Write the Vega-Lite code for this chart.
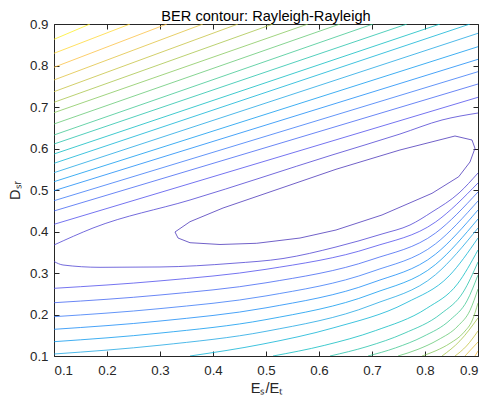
{
 "$schema": "https://vega.github.io/schema/vega-lite/v6.json",
 "width": 424, "height": 332,
 "autosize": "none",
 "padding": {"left": 54, "top": 24, "right": 10, "bottom": 46},
 "background": "white",
 "title": {"text": "BER contour: Rayleigh-Rayleigh", "fontSize": 14.6, "font": "Liberation Sans", "fontWeight": "normal", "color": "#000000", "offset": 0, "dy": 7, "anchor": "middle"},
 "data": {"values": [
  {"c":"L1","k":1,"i":0,"x":0.3283,"y":0.3988},{"c":"L1","k":1,"i":1,"x":0.334,"y":0.3843},{"c":"L1","k":1,"i":2,"x":0.3566,"y":0.373},{"c":"L1","k":1,"i":3,"x":0.4132,"y":0.3687},{"c":"L1","k":1,"i":4,"x":0.4825,"y":0.3716},{"c":"L1","k":1,"i":5,"x":0.5642,"y":0.3843},{"c":"L1","k":1,"i":6,"x":0.6321,"y":0.4036},{"c":"L1","k":1,"i":7,"x":0.7189,"y":0.4398},{"c":"L1","k":1,"i":8,"x":0.8132,"y":0.492},{"c":"L1","k":1,"i":9,"x":0.8636,"y":0.532},{"c":"L1","k":1,"i":10,"x":0.8849,"y":0.5675},{"c":"L1","k":1,"i":11,"x":0.8943,"y":0.6005},{"c":"L1","k":1,"i":12,"x":0.8887,"y":0.6205},{"c":"L1","k":1,"i":13,"x":0.8566,"y":0.6301},{"c":"L1","k":1,"i":14,"x":0.7528,"y":0.5964},{"c":"L1","k":1,"i":15,"x":0.6321,"y":0.5499},{"c":"L1","k":1,"i":16,"x":0.5264,"y":0.5036},{"c":"L1","k":1,"i":17,"x":0.4189,"y":0.4566},{"c":"L1","k":1,"i":18,"x":0.3566,"y":0.4236},{"c":"L1","k":1,"i":19,"x":0.3283,"y":0.3988},
  {"c":"L2U","k":2,"i":0,"x":0.1,"y":0.3675},{"c":"L2U","k":2,"i":1,"x":0.1736,"y":0.4084},{"c":"L2U","k":2,"i":2,"x":0.3566,"y":0.4759},{"c":"L2U","k":2,"i":3,"x":0.6245,"y":0.5843},{"c":"L2U","k":2,"i":4,"x":0.7528,"y":0.6349},{"c":"L2U","k":2,"i":5,"x":0.8321,"y":0.6687},{"c":"L2U","k":2,"i":6,"x":0.9,"y":0.6855},
  {"c":"L2L","k":2,"i":0,"x":0.1,"y":0.3277},{"c":"L2L","k":2,"i":1,"x":0.117,"y":0.3193},{"c":"L2L","k":2,"i":2,"x":0.1868,"y":0.3137},{"c":"L2L","k":2,"i":3,"x":0.3,"y":0.3145},{"c":"L2L","k":2,"i":4,"x":0.4377,"y":0.3234},{"c":"L2L","k":2,"i":5,"x":0.5321,"y":0.3349},{"c":"L2L","k":2,"i":6,"x":0.6321,"y":0.3627},{"c":"L2L","k":2,"i":7,"x":0.7189,"y":0.394},{"c":"L2L","k":2,"i":8,"x":0.7717,"y":0.4157},{"c":"L2L","k":2,"i":9,"x":0.8132,"y":0.447},{"c":"L2L","k":2,"i":10,"x":0.8642,"y":0.4928},{"c":"L2L","k":2,"i":11,"x":0.9,"y":0.541},
  {"c":"U3","k":3,"i":0,"x":0.1,"y":0.4173},{"c":"U3","k":3,"i":1,"x":0.9,"y":0.7234},
  {"c":"U4","k":4,"i":0,"x":0.1,"y":0.4494},{"c":"U4","k":4,"i":1,"x":0.9,"y":0.7554},
  {"c":"U5","k":5,"i":0,"x":0.1,"y":0.4742},{"c":"U5","k":5,"i":1,"x":0.9,"y":0.7851},
  {"c":"U6","k":6,"i":0,"x":0.1,"y":0.4983},{"c":"U6","k":6,"i":1,"x":0.9,"y":0.8149},
  {"c":"U7","k":7,"i":0,"x":0.1,"y":0.52},{"c":"U7","k":7,"i":1,"x":0.9,"y":0.8453},
  {"c":"U8","k":8,"i":0,"x":0.1,"y":0.5417},{"c":"U8","k":8,"i":1,"x":0.9,"y":0.8776},
  {"c":"U9","k":9,"i":0,"x":0.1,"y":0.5643},{"c":"U9","k":9,"i":1,"x":0.8849,"y":0.9},
  {"c":"U10","k":10,"i":0,"x":0.1,"y":0.5867},{"c":"U10","k":10,"i":1,"x":0.8283,"y":0.9},
  {"c":"U11","k":11,"i":0,"x":0.1,"y":0.6108},{"c":"U11","k":11,"i":1,"x":0.766,"y":0.9},
  {"c":"U12","k":12,"i":0,"x":0.1,"y":0.6325},{"c":"U12","k":12,"i":1,"x":0.7019,"y":0.9},
  {"c":"U13","k":13,"i":0,"x":0.1,"y":0.659},{"c":"U13","k":13,"i":1,"x":0.6396,"y":0.9},
  {"c":"U14","k":14,"i":0,"x":0.1,"y":0.6863},{"c":"U14","k":14,"i":1,"x":0.5792,"y":0.9},
  {"c":"U15","k":15,"i":0,"x":0.1,"y":0.7113},{"c":"U15","k":15,"i":1,"x":0.5132,"y":0.9},
  {"c":"U16","k":16,"i":0,"x":0.1,"y":0.7369},{"c":"U16","k":16,"i":1,"x":0.4472,"y":0.9},
  {"c":"U17","k":17,"i":0,"x":0.1,"y":0.7651},{"c":"U17","k":17,"i":1,"x":0.3811,"y":0.9},
  {"c":"U18","k":18,"i":0,"x":0.1,"y":0.7957},{"c":"U18","k":18,"i":1,"x":0.3132,"y":0.9},
  {"c":"U19","k":19,"i":0,"x":0.1,"y":0.8294},{"c":"U19","k":19,"i":1,"x":0.2434,"y":0.9},
  {"c":"U20","k":20,"i":0,"x":0.1,"y":0.8631},{"c":"U20","k":20,"i":1,"x":0.1679,"y":0.9},
  {"c":"D3","k":3,"i":0,"x":0.1,"y":0.2631},{"c":"D3","k":3,"i":1,"x":0.3,"y":0.281},{"c":"D3","k":3,"i":2,"x":0.5,"y":0.3089},{"c":"D3","k":3,"i":3,"x":0.7,"y":0.3622},{"c":"D3","k":3,"i":4,"x":0.82,"y":0.4229},{"c":"D3","k":3,"i":5,"x":0.9,"y":0.5169},
  {"c":"D4","k":4,"i":0,"x":0.1,"y":0.2284},{"c":"D4","k":4,"i":1,"x":0.3,"y":0.247},{"c":"D4","k":4,"i":2,"x":0.5,"y":0.2764},{"c":"D4","k":4,"i":3,"x":0.7,"y":0.3325},{"c":"D4","k":4,"i":4,"x":0.82,"y":0.3964},{"c":"D4","k":4,"i":5,"x":0.9,"y":0.4952},
  {"c":"D5","k":5,"i":0,"x":0.1,"y":0.1947},{"c":"D5","k":5,"i":1,"x":0.3,"y":0.2142},{"c":"D5","k":5,"i":2,"x":0.5,"y":0.2448},{"c":"D5","k":5,"i":3,"x":0.7,"y":0.3034},{"c":"D5","k":5,"i":4,"x":0.82,"y":0.3704},{"c":"D5","k":5,"i":5,"x":0.9,"y":0.4735},
  {"c":"D6","k":6,"i":0,"x":0.1,"y":0.1643},{"c":"D6","k":6,"i":1,"x":0.3,"y":0.1843},{"c":"D6","k":6,"i":2,"x":0.5,"y":0.2161},{"c":"D6","k":6,"i":3,"x":0.7,"y":0.2764},{"c":"D6","k":6,"i":4,"x":0.82,"y":0.3455},{"c":"D6","k":6,"i":5,"x":0.9,"y":0.4518},
  {"c":"D7","k":7,"i":0,"x":0.1,"y":0.1345},{"c":"D7","k":7,"i":1,"x":0.3,"y":0.1552},{"c":"D7","k":7,"i":2,"x":0.5,"y":0.1877},{"c":"D7","k":7,"i":3,"x":0.7,"y":0.2499},{"c":"D7","k":7,"i":4,"x":0.82,"y":0.3207},{"c":"D7","k":7,"i":5,"x":0.9,"y":0.4301},
  {"c":"D8","k":8,"i":0,"x":0.1,"y":0.1048},{"c":"D8","k":8,"i":1,"x":0.3,"y":0.126},{"c":"D8","k":8,"i":2,"x":0.5,"y":0.1595},{"c":"D8","k":8,"i":3,"x":0.7,"y":0.2231},{"c":"D8","k":8,"i":4,"x":0.82,"y":0.2961},{"c":"D8","k":8,"i":5,"x":0.9,"y":0.4084},
  {"c":"D9","k":9,"i":0,"x":0.3566,"y":0.1},{"c":"D9","k":9,"i":1,"x":0.4925,"y":0.1284},{"c":"D9","k":9,"i":2,"x":0.6283,"y":0.1682},{"c":"D9","k":9,"i":3,"x":0.7642,"y":0.228},{"c":"D9","k":9,"i":4,"x":0.8457,"y":0.2933},{"c":"D9","k":9,"i":5,"x":0.9,"y":0.3843},
  {"c":"D10","k":10,"i":0,"x":0.5132,"y":0.1},{"c":"D10","k":10,"i":1,"x":0.6099,"y":0.1255},{"c":"D10","k":10,"i":2,"x":0.7066,"y":0.1612},{"c":"D10","k":10,"i":3,"x":0.8033,"y":0.2149},{"c":"D10","k":10,"i":4,"x":0.8613,"y":0.2737},{"c":"D10","k":10,"i":5,"x":0.9,"y":0.3554},
  {"c":"D11","k":11,"i":0,"x":0.6208,"y":0.1},{"c":"D11","k":11,"i":1,"x":0.6906,"y":0.1227},{"c":"D11","k":11,"i":2,"x":0.7604,"y":0.1545},{"c":"D11","k":11,"i":3,"x":0.8302,"y":0.2019},{"c":"D11","k":11,"i":4,"x":0.8721,"y":0.254},{"c":"D11","k":11,"i":5,"x":0.9,"y":0.3265},
  {"c":"D12","k":12,"i":0,"x":0.6925,"y":0.1},{"c":"D12","k":12,"i":1,"x":0.7443,"y":0.1195},{"c":"D12","k":12,"i":2,"x":0.7962,"y":0.1467},{"c":"D12","k":12,"i":3,"x":0.8481,"y":0.1877},{"c":"D12","k":12,"i":4,"x":0.8792,"y":0.2328},{"c":"D12","k":12,"i":5,"x":0.9,"y":0.2952},
  {"c":"D13","k":13,"i":0,"x":0.7491,"y":0.1},{"c":"D13","k":13,"i":1,"x":0.7868,"y":0.1161},{"c":"D13","k":13,"i":2,"x":0.8245,"y":0.1388},{"c":"D13","k":13,"i":3,"x":0.8623,"y":0.1725},{"c":"D13","k":13,"i":4,"x":0.8849,"y":0.2099},{"c":"D13","k":13,"i":5,"x":0.9,"y":0.2614},
  {"c":"D14","k":14,"i":0,"x":0.7943,"y":0.1},{"c":"D14","k":14,"i":1,"x":0.8208,"y":0.1128},{"c":"D14","k":14,"i":2,"x":0.8472,"y":0.1306},{"c":"D14","k":14,"i":3,"x":0.8736,"y":0.1573},{"c":"D14","k":14,"i":4,"x":0.8894,"y":0.1867},{"c":"D14","k":14,"i":5,"x":0.9,"y":0.2277},
  {"c":"D15","k":15,"i":0,"x":0.8321,"y":0.1},{"c":"D15","k":15,"i":1,"x":0.866,"y":0.1366},{"c":"D15","k":15,"i":2,"x":0.9,"y":0.1916},
  {"c":"D16","k":16,"i":0,"x":0.8566,"y":0.1},{"c":"D16","k":16,"i":1,"x":0.8783,"y":0.1241},{"c":"D16","k":16,"i":2,"x":0.9,"y":0.1602},
  {"c":"D17","k":17,"i":0,"x":0.8755,"y":0.1},{"c":"D17","k":17,"i":1,"x":0.9,"y":0.1337},
  {"c":"D18","k":18,"i":0,"x":0.8943,"y":0.1},{"c":"D18","k":18,"i":1,"x":0.9,"y":0.112}
 ]},
 "layer": [
  {
   "transform": [{"filter": "datum.c !== 'L1'"}],
   "mark": {"type": "line", "interpolate": "monotone", "strokeWidth": 0.75, "clip": true},
   "encoding": {
    "x": {"field": "x", "type": "quantitative", "scale": {"domain": [0.1, 0.9], "nice": false, "zero": false},
          "axis": {"orient": "bottom", "values": [0.1,0.2,0.3,0.4,0.5,0.6,0.7,0.8,0.9], "format": ".1f", "title": "Eₛ/Eₜ", "labelPadding": 12, "titlePadding": 4}},
    "y": {"field": "y", "type": "quantitative", "scale": {"domain": [0.1, 0.9], "nice": false, "zero": false},
          "axis": {"orient": "left", "values": [0.1,0.2,0.3,0.4,0.5,0.6,0.7,0.8,0.9], "format": ".1f", "title": "Dₛᵣ", "labelPadding": 11, "titlePadding": 7}},
    "color": {"field": "k", "type": "quantitative", "legend": null,
              "scale": {"domain": [0.5, 3, 5.5, 8, 10.5, 13, 15.5, 18, 20.5], "range": ["#3e26a8", "#4746eb", "#2f7af7", "#13a2e2", "#1bbcb0", "#5dc66e", "#b5bf3b", "#fbbd3b", "#f9fb0e"]}},
    "detail": {"field": "c"},
    "order": {"field": "i", "type": "quantitative"}
   }
  },
  {
   "transform": [{"filter": "datum.c === 'L1'"}],
   "mark": {"type": "line", "interpolate": "linear", "strokeWidth": 0.75, "clip": true},
   "encoding": {
    "x": {"field": "x", "type": "quantitative", "axis": {"orient": "top", "labels": false, "title": null, "values": [0.1,0.2,0.3,0.4,0.5,0.6,0.7,0.8,0.9]}},
    "y": {"field": "y", "type": "quantitative", "axis": {"orient": "right", "labels": false, "title": null, "values": [0.1,0.2,0.3,0.4,0.5,0.6,0.7,0.8,0.9]}},
    "color": {"field": "k", "type": "quantitative", "legend": null},
    "detail": {"field": "c"},
    "order": {"field": "i", "type": "quantitative"}
   }
  }
 ],
 "resolve": {"axis": {"x": "independent", "y": "independent"}},
 "config": {
  "view": {"stroke": null},
  "axis": {"domainColor": "#262626", "tickColor": "#262626", "labelColor": "#262626", "titleColor": "#262626",
           "labelFont": "Liberation Sans", "titleFont": "Liberation Sans", "labelFontSize": 13.3, "titleFontSize": 14.6,
           "titleFontWeight": "normal", "tickSize": -5, "grid": false, "domainWidth": 1, "tickWidth": 1}
 }
}
